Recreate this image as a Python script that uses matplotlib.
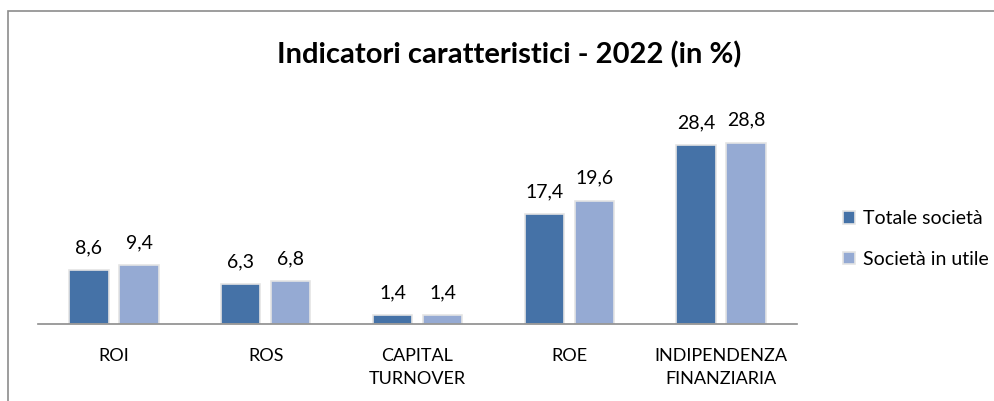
import matplotlib.pyplot as plt
from matplotlib.patches import Rectangle
import numpy as np

categorie = ["ROI", "ROS", "CAPITAL\nTURNOVER", "ROE", "INDIPENDENZA\nFINANZIARIA"]
totale = [8.6, 6.3, 1.4, 17.4, 28.4]
in_utile = [9.4, 6.8, 1.4, 19.6, 28.8]
serie = ["Totale società", "Società in utile"]
colori = ["#4572A7", "#95AAD3"]

plt.rcParams["font.family"] = ["Lato", "DejaVu Sans"]

fig = plt.figure(figsize=(9.95, 4.01), dpi=100)
# cornice del grafico
fig.patches.append(Rectangle((8 / 995, -0.1), 1.2, 1 - 11 / 401 + 0.1,
                             transform=fig.transFigure, fill=False,
                             edgecolor="#8c8c8c", linewidth=1.2))

ax = fig.add_axes([38 / 995, 1 - 324 / 401, 759 / 995, 214 / 401])
x = np.arange(len(categorie))
w = 0.26
off = 0.165
for vals, dx, col, lab in [(totale, -off, colori[0], serie[0]),
                           (in_utile, off, colori[1], serie[1])]:
    bars = ax.bar(x + dx, vals, w, color=col, label=lab,
                  edgecolor="#e4e4e4", linewidth=1.2)
    for b, v in zip(bars, vals):
        ax.annotate(f"{v:.1f}".replace(".", ","),
                    (b.get_x() + b.get_width() / 2, v),
                    xytext=(0, 10), textcoords="offset points",
                    ha="center", va="bottom", fontsize=14)

ax.set_xlim(-0.5, 4.5)
ax.set_ylim(0, 34)
ax.set_yticks([])
ax.set_xticks(x)
ax.set_xticklabels(categorie, fontsize=13, linespacing=1.55, va="top")
ax.tick_params(axis="x", length=0, pad=17)
for s in ["top", "right", "left"]:
    ax.spines[s].set_visible(False)
ax.spines["bottom"].set_color("#8c8c8c")
ax.spines["bottom"].set_linewidth(1.2)
ax.patch.set_alpha(0)

fig.text(0.512, 1 - 55 / 401, "Indicatori caratteristici - 2022 (in %)",
         ha="center", va="center", fontsize=21, fontweight="bold")

fig.legend(loc="center left", bbox_to_anchor=(826 / 995, 1 - 239 / 401),
           frameon=False, fontsize=14, handlelength=0.6, handleheight=0.6,
           handletextpad=0.4, labelspacing=1.2)

fig.savefig("out.png", dpi=100, facecolor="white")
